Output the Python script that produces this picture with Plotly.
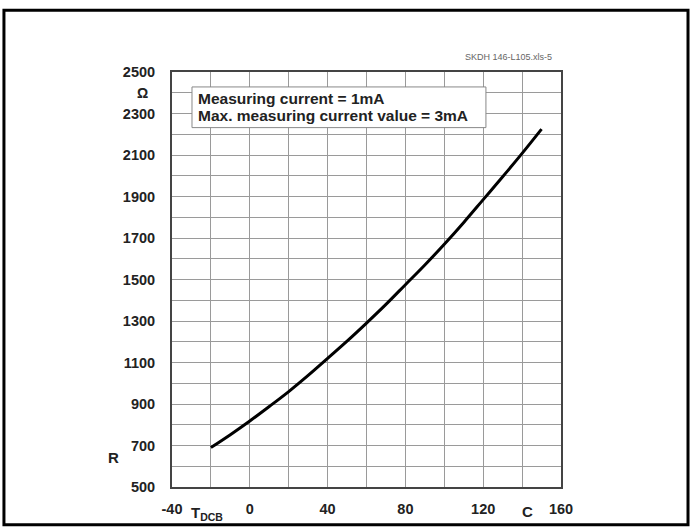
import plotly.graph_objects as go

# Data
temperature_c = [-20, -10, 0, 10, 20, 30, 40, 50, 60, 70, 80, 90, 100, 110, 120, 130, 140, 150]
resistance_ohm = [690, 752, 818, 888, 960, 1038, 1120, 1203, 1290, 1380, 1475, 1570,
                  1670, 1775, 1885, 1995, 2108, 2225]

x_ticks = [-40, 0, 40, 80, 120, 160]
x_tick_labels = ["-40", "0", "40", "80", "120", "160"]
y_ticks = [500, 700, 900, 1100, 1300, 1500, 1700, 1900, 2100, 2300, 2500]
y_tick_labels = ["500", "700", "900", "1100", "1300", "1500", "1700", "1900", "2100", "2300", "2500"]

FONT = "Liberation Sans"
TXT = "#222222"

fig = go.Figure()
fig.add_trace(go.Scatter(
    x=temperature_c, y=resistance_ohm, mode="lines",
    line=dict(color="black", width=3, shape="spline"),
    showlegend=False, hoverinfo="skip"))

axis_common = dict(
    showline=True, mirror=True, linecolor="#444444", linewidth=2,
    showgrid=True, gridcolor="#9a9a9a", gridwidth=1,
    zeroline=False, ticks="",
    tickfont=dict(family=FONT, size=14.5, color=TXT, weight="bold"),
)

fig.update_xaxes(range=[-40, 160], tickvals=x_ticks, ticktext=x_tick_labels, ticklabelstandoff=8,
                 minor=dict(dtick=20, tick0=-40, showgrid=True, gridcolor="#9a9a9a", gridwidth=1),
                 **axis_common)
fig.update_yaxes(range=[500, 2500], tickvals=y_ticks, ticktext=y_tick_labels, ticklabelstandoff=12,
                 minor=dict(dtick=100, tick0=500, showgrid=True, gridcolor="#9a9a9a", gridwidth=1),
                 **axis_common)

lab_font = dict(family=FONT, size=15, color=TXT, weight="bold")
box_font = dict(family=FONT, size=15.5, color=TXT, weight="bold")


def paper_ann(text, x, y, font, xanchor="center", yanchor="middle"):
    return dict(text=text, x=x, y=y, xref="paper", yref="paper", showarrow=False,
                xanchor=xanchor, yanchor=yanchor, font=font)


annotations = [
    paper_ann("Ω", -0.0746, 0.950, dict(family=FONT, size=14, color=TXT, weight="bold")),
    paper_ann("R", -0.150, 0.072, lab_font),
    paper_ann("T<sub>DCB</sub>", 0.090, -0.064, lab_font),
    paper_ann("C", 0.915, -0.060, lab_font),
    paper_ann("SKDH 146-L105.xls-5", 0.864, 1.036, dict(family=FONT, size=9, color="#666666")),
    paper_ann("Measuring current = 1mA", 0.0617, 0.935, box_font, xanchor="left"),
    paper_ann("Max. measuring current value = 3mA", 0.0617, 0.8945, box_font, xanchor="left"),
]

shapes = [
    dict(type="rect", xref="paper", yref="paper", x0=0.0514, x1=0.807, y0=0.866, y1=0.964,
         line=dict(color="#888888", width=1), fillcolor="white", layer="above"),
    dict(type="rect", xref="paper", yref="paper", x0=-0.432, x1=1.3265, y0=-0.0911, y1=1.1487,
         line=dict(color="black", width=3), fillcolor="rgba(0,0,0,0)"),
]

fig.update_layout(
    width=692, height=529,
    margin=dict(l=172, r=131, t=72, b=40),
    paper_bgcolor="white", plot_bgcolor="white",
    annotations=annotations, shapes=shapes,
    showlegend=False,
)

fig.write_html(
    "out.html",
    config={"displayModeBar": False},
    post_script="document.body.style.margin='0';document.body.style.overflow='hidden';",
)
